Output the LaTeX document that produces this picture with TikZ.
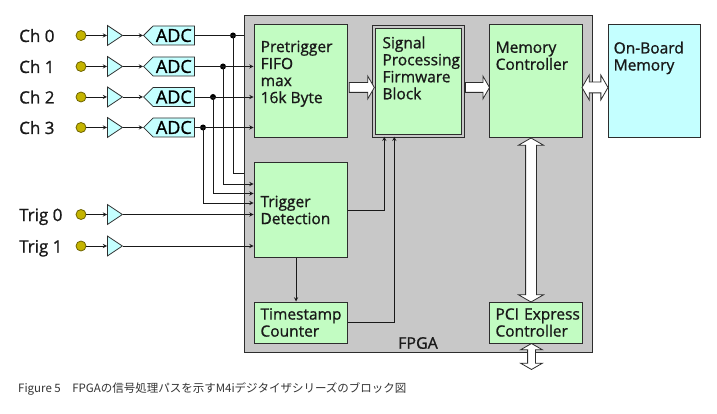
\documentclass[tikz,border=0pt]{standalone}
\usepackage{fontspec}
\setmainfont{Open Sans}[FakeBold=1.0]
\newfontfamily\jpfont{Noto Sans CJK JP}
\usepackage{xcolor}
\usepackage{tikz}
\usetikzlibrary{positioning, arrows.meta, calc, shapes.geometric, shapes.symbols, shapes.arrows}

\definecolor{fpgagray}{RGB}{200,200,200}
\definecolor{blockgreen}{RGB}{194,252,194}
\definecolor{memcyan}{RGB}{196,255,255}
\definecolor{pinyellow}{RGB}{196,180,0}
\definecolor{pinedge}{RGB}{110,100,0}
\definecolor{edgegray}{RGB}{45,45,45}

\begin{document}
\begin{tikzpicture}[x=1pt, y=-1pt, every node/.style={inner sep=0pt},
  gbox/.style={draw=edgegray, fill=blockgreen, line width=1pt},
  btext/.style={font=\fontsize{15.5}{17}\selectfont, align=left, text=black!90},
  wire/.style={draw=black!90, line width=0.9pt},
  pin/.style={circle, draw=pinedge, fill=pinyellow, line width=0.8pt, minimum size=10pt},
  amp/.style={isosceles triangle, isosceles triangle stretches, draw=edgegray, fill=memcyan, line width=0.8pt, minimum width=20pt, minimum height=15pt, anchor=west},
  adc/.style={signal, signal to=west, draw=edgegray, fill=memcyan, line width=0.8pt, minimum width=51pt, minimum height=19pt, anchor=west, font=\fontsize{18}{18}\selectfont},
  dot/.style={circle, fill=black, minimum size=6pt},
  inlbl/.style={font=\fontsize{17}{17}\selectfont, anchor=base west, text=black!90},
  fat/.style={single arrow, draw=edgegray, fill=white, line width=0.8pt, single arrow head extend=6.5pt, single arrow tip angle=120, inner ysep=4.5pt, inner xsep=0pt},
  fatboth/.style={double arrow, draw=edgegray, fill=white, line width=0.8pt, double arrow head extend=7pt, double arrow tip angle=120, inner ysep=5pt, inner xsep=0pt}]
  \useasboundingbox (0,0) rectangle (717,414);

  % FPGA frame
  \node[draw=edgegray, fill=fpgagray, line width=1.2pt, minimum width=348pt, minimum height=337pt] (fpga) at (418.5,184) {};
  \node[font=\fontsize{16}{16}\selectfont, text=black!90] (fpgalbl) at (418,343) {FPGA};

  % blocks
  \node[gbox, minimum width=93pt, minimum height=113pt] (fifo) at (300.5,81.5) {};
  \node[gbox, double=fpgagray, double distance=1.6pt, minimum width=89.4pt, minimum height=109.4pt] (sp) at (418.5,81.5) {};
  \node[gbox, minimum width=93pt, minimum height=113pt] (memc) at (535.5,81.5) {};
  \node[gbox, fill=memcyan, minimum width=92pt, minimum height=113pt] (obm) at (654,81.5) {};
  \node[btext, anchor=north west] (fifotxt) at ([shift={(7,16)}]fifo.north west) {Pretrigger\\FIFO\\max\\16k Byte};
  \node[btext, anchor=north west] (sptxt) at ([shift={(9,10)}]sp.north west) {Signal\\Processing\\Firmware\\Block};
  \node[btext, anchor=north west] (memctxt) at ([shift={(7,17)}]memc.north west) {Memory\\Controller};
  \node[btext, anchor=north west] (obmtxt) at ([shift={(6,17)}]obm.north west) {On-Board\\Memory};
  \node[gbox, btext, text width=80pt, inner xsep=6.5pt, minimum height=94pt] (trig) at (300.5,210) {Trigger\\Detection};
  \node[gbox, btext, text width=80pt, inner xsep=6.5pt, minimum height=41pt] (ts) at (300.5,322.5) {Timestamp\\Counter};
  \node[gbox, btext, text width=80pt, inner xsep=6.5pt, minimum height=41pt] (pci) at (535.5,322.5) {\mbox{PCI Express}\\Controller};

  % analog inputs
  \node[inlbl] (chl0) at (19,42) {Ch 0};
  \node[inlbl] (chl1) at (19,73) {Ch 1};
  \node[inlbl] (chl2) at (19,103.5) {Ch 2};
  \node[inlbl] (chl3) at (19,134) {Ch 3};
  \node[pin] (cp0) at (81,35.5) {};
  \node[pin] (cp1) at (81,66.5) {};
  \node[pin] (cp2) at (81,97) {};
  \node[pin] (cp3) at (81,127.5) {};
  \node[amp] (ca0) at (107,35.5) {};
  \node[amp] (ca1) at (107,66.5) {};
  \node[amp] (ca2) at (107,97) {};
  \node[amp] (ca3) at (107,127.5) {};
  \node[adc] (adc0) at (143,35.5) {ADC};
  \node[adc] (adc1) at (143,66.5) {ADC};
  \node[adc] (adc2) at (143,97) {ADC};
  \node[adc] (adc3) at (143,127.5) {ADC};
  \draw[->,>=stealth,wire] (cp0) -- (ca0.west);
  \draw[->,>=stealth,wire] (cp1) -- (ca1.west);
  \draw[->,>=stealth,wire] (cp2) -- (ca2.west);
  \draw[->,>=stealth,wire] (cp3) -- (ca3.west);
  \draw[->,>=stealth,wire] (ca0.apex) -- (adc0.west);
  \draw[->,>=stealth,wire] (ca1.apex) -- (adc1.west);
  \draw[->,>=stealth,wire] (ca2.apex) -- (adc2.west);
  \draw[->,>=stealth,wire] (ca3.apex) -- (adc3.west);

  % ADC outputs and trigger taps
  \node[dot] (d0) at (233,35.5) {};
  \node[dot] (d1) at (223,66.5) {};
  \node[dot] (d2) at (213,97) {};
  \node[dot] (d3) at (203,127.5) {};
  \draw[wire] (adc0.east) -- (adc0.east -| fpga.west);
  \draw[->,>=stealth,wire] (adc1.east) -- (adc1.east -| fifo.west);
  \draw[->,>=stealth,wire] (adc2.east) -- (adc2.east -| fifo.west);
  \draw[->,>=stealth,wire] (adc3.east) -- (adc3.east -| fifo.west);
  \draw[wire] (d0.center) |- (fpga.west |- 0,173);
  \draw[->,>=stealth,wire] (d1.center) |- (trig.west |- 0,184);
  \draw[->,>=stealth,wire] (d2.center) |- (trig.west |- 0,193.5);
  \draw[->,>=stealth,wire] (d3.center) |- (trig.west |- 0,203);

  % trigger inputs
  \node[inlbl] (tl0) at (19,221) {Trig 0};
  \node[inlbl] (tl1) at (19,252.5) {Trig 1};
  \node[pin] (tp0) at (81,214.5) {};
  \node[pin] (tp1) at (81,246) {};
  \node[amp] (ta0) at (107,214.5) {};
  \node[amp] (ta1) at (107,246) {};
  \draw[->,>=stealth,wire] (tp0) -- (ta0.west);
  \draw[->,>=stealth,wire] (tp1) -- (ta1.west);
  \draw[->,>=stealth,wire] (ta0.apex) -- (ta0.apex -| trig.west);
  \draw[->,>=stealth,wire] (ta1.apex) -- (ta1.apex -| trig.west);

  % control paths
  \draw[->,>=stealth,wire] ([xshift=-4.5pt]trig.south) -- ([xshift=-4.5pt]ts.north);
  \draw[->,>=stealth,wire] (trig.east) -| ([xshift=11pt]sp.south west);
  \draw[->,>=stealth,wire] (ts.east) -| ([xshift=21pt]sp.south west);

  % data buses
  \node[fat, minimum height=25pt] (bus1) at ($(fifo.east)!0.5!(sp.west)+(0,6)$) {};
  \node[fat, minimum height=24pt] (bus2) at ($(sp.east)!0.5!(memc.west)+(0,6)$) {};
  \node[fatboth, minimum height=26pt] (bus3) at ($(memc.east)!0.5!(obm.west)+(0,6)$) {};
  \node[fatboth, rotate=90, minimum height=164pt] (bus4) at ($(memc.south)!0.5!(pci.north)+(-4.5,0)$) {};
  \node[fatboth, rotate=90, minimum height=26pt, inner ysep=3.5pt] (bus5) at ($(pci.south)+(-4,13)$) {};

  \node[anchor=west, font=\jpfont\fontsize{11.5}{11.5}\selectfont, text=black!80] (caption) at (18,389) {Figure 5　FPGAの信号処理パスを示すM4iデジタイザシリーズのブロック図};
\end{tikzpicture}
\end{document}
